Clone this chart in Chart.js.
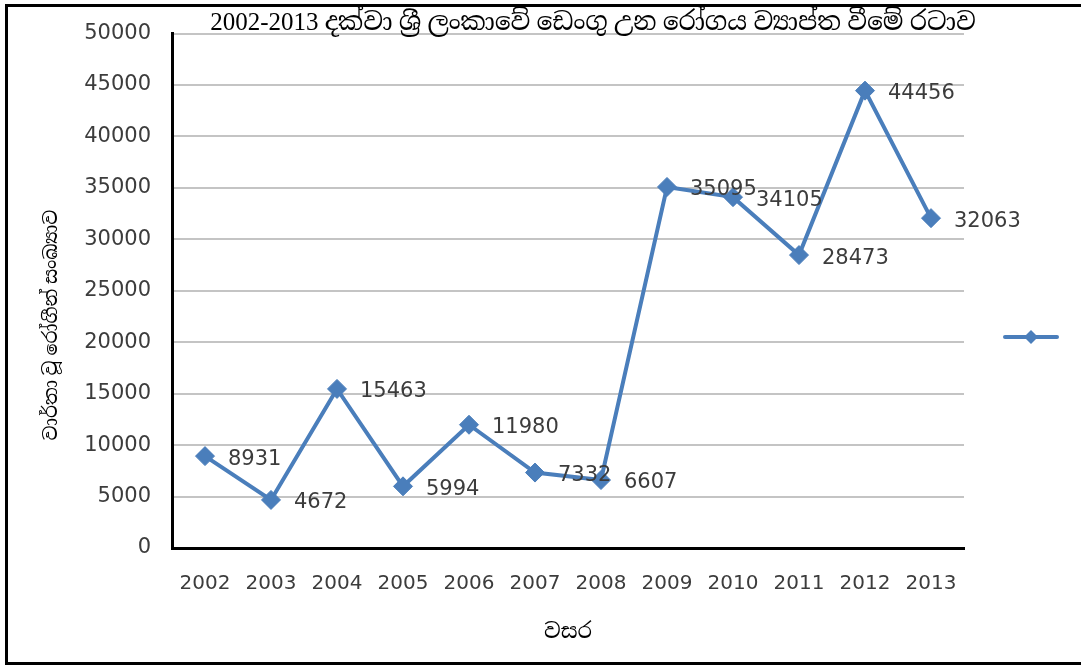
<!DOCTYPE html>
<html>
<head>
<meta charset="utf-8">
<title>Dengue cases Sri Lanka 2002-2013</title>
<script src="https://cdn.jsdelivr.net/npm/chart.js@4.4.1/dist/chart.umd.min.js"></script>
<style>
  html, body { margin: 0; padding: 0; background: #fff; overflow: hidden; }
  canvas { display: block; }
</style>
</head>
<body>
<canvas id="dengueChart" width="1081" height="666"></canvas>
<script>
// Data
const years = ["2002", "2003", "2004", "2005", "2006", "2007", "2008", "2009", "2010", "2011", "2012", "2013"];
const cases = [8931, 4672, 15463, 5994, 11980, 7332, 6607, 35095, 34105, 28473, 44456, 32063];
const yTicks = [0, 5000, 10000, 15000, 20000, 25000, 30000, 35000, 40000, 45000, 50000];

const chartTitle = "2002-2013 දක්වා ශ්‍රී ලංකාවේ ඩෙංගු උන රෝගය ව්‍යාප්ත වීමේ රටාව";
const yTitle = "වාර්තා වූ රෝගීන් සංඛ්‍යාව";
const xTitle = "වසර";

const LINE_BLUE = "#4a7ebb";
const TEXT_GREY = "#3c3c3c";
const NUM_FONT = "'DejaVu Sans', 'Liberation Sans', sans-serif";
const SIN_FONT = "'Liberation Serif', 'Noto Serif Sinhala', 'Noto Sans Sinhala', serif";

// Draws the cropped frame, title, vertical axis title, point values and the label-less legend
const decorPlugin = {
  id: "decor",
  beforeDraw(chart) {
    const ctx = chart.ctx;
    ctx.save();
    ctx.fillStyle = "#fff";
    ctx.fillRect(0, 0, chart.width, chart.height);
    // frame: left, top and bottom edges only (cropped on the right)
    ctx.strokeStyle = "#000";
    ctx.lineWidth = 3;
    ctx.beginPath();
    ctx.moveTo(chart.width + 5, 5.5);
    ctx.lineTo(6.5, 5.5);
    ctx.lineTo(6.5, 663.5);
    ctx.lineTo(chart.width + 5, 663.5);
    ctx.stroke();
    ctx.restore();
  },
  afterDatasetsDraw(chart) {
    const ctx = chart.ctx;
    const area = chart.chartArea;
    const meta = chart.getDatasetMeta(0);

    // value labels right of each point
    ctx.save();
    ctx.font = "21px " + NUM_FONT;
    ctx.fillStyle = TEXT_GREY;
    ctx.textAlign = "left";
    ctx.textBaseline = "middle";
    meta.data.forEach((pt, i) => {
      ctx.fillText(String(cases[i]), pt.x + 23, pt.y + 3);
    });
    ctx.restore();

    // title
    ctx.save();
    ctx.font = "25px " + SIN_FONT;
    ctx.fillStyle = "#000";
    ctx.textAlign = "center";
    ctx.textBaseline = "alphabetic";
    ctx.fillText(chartTitle, 593, 30);
    ctx.restore();

    // vertical axis title
    ctx.save();
    ctx.translate(52, 325);
    ctx.rotate(-Math.PI / 2);
    ctx.font = "19px " + SIN_FONT;
    ctx.fillStyle = "#000";
    ctx.textAlign = "center";
    ctx.textBaseline = "middle";
    ctx.fillText(yTitle, 0, 0);
    ctx.restore();

    // legend sample: line with diamond marker, no series name
    const lx = area.right + 41, ly = chart.height / 2 + 4;
    ctx.save();
    ctx.strokeStyle = LINE_BLUE;
    ctx.fillStyle = LINE_BLUE;
    ctx.lineWidth = 4;
    ctx.lineCap = "round";
    ctx.beginPath();
    ctx.moveTo(lx, ly);
    ctx.lineTo(lx + 52, ly);
    ctx.stroke();
    ctx.beginPath();
    ctx.moveTo(lx + 26, ly - 7);
    ctx.lineTo(lx + 33, ly);
    ctx.lineTo(lx + 26, ly + 7);
    ctx.lineTo(lx + 19, ly);
    ctx.closePath();
    ctx.fill();
    ctx.restore();
  }
};

new Chart(document.getElementById("dengueChart"), {
  type: "line",
  data: {
    labels: years,
    datasets: [{
      label: "",
      data: cases,
      borderColor: LINE_BLUE,
      backgroundColor: LINE_BLUE,
      borderWidth: 4,
      pointStyle: "rectRot",
      pointRadius: 9.5,
      pointBackgroundColor: LINE_BLUE,
      pointBorderColor: LINE_BLUE,
      pointBorderWidth: 1,
      tension: 0,
      fill: false
    }]
  },
  options: {
    responsive: false,
    animation: false,
    layout: { padding: { top: 33, right: 117, bottom: 0, left: 0 } },
    plugins: {
      legend: { display: false },
      tooltip: { enabled: false },
      title: { display: false }
    },
    scales: {
      x: {
        offset: true,
        grid: { display: false, drawTicks: false },
        border: { color: "#000", width: 3 },
        ticks: {
          color: TEXT_GREY,
          font: { family: NUM_FONT, size: 20 },
          padding: 24,
          maxRotation: 0
        },
        title: {
          display: true,
          text: xTitle,
          color: "#000",
          font: { family: SIN_FONT, size: 21 },
          padding: { top: 8, bottom: 21 }
        },
        afterFit(scale) { scale.height = 118; }
      },
      y: {
        min: 0,
        max: 50000,
        afterBuildTicks(scale) { scale.ticks = yTicks.map(v => ({ value: v })); },
        grid: { color: "#c4c4c4", lineWidth: 2, drawTicks: false },
        border: { color: "#000", width: 3 },
        ticks: {
          color: TEXT_GREY,
          font: { family: NUM_FONT, size: 21 },
          padding: 21,
          callback: v => String(v)
        },
        afterFit(scale) { scale.width = 172; }
      }
    }
  },
  plugins: [decorPlugin]
});
</script>
</body>
</html>
